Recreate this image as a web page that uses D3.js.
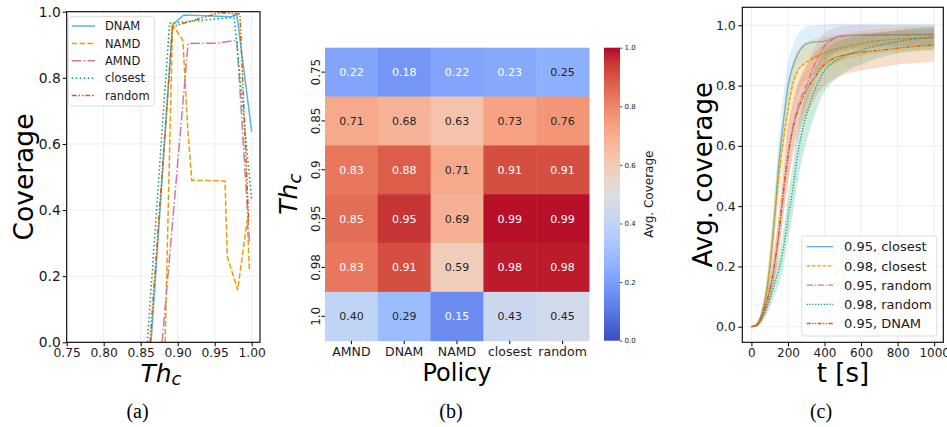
<!DOCTYPE html>
<html><head><meta charset="utf-8">
<script src="https://cdn.jsdelivr.net/npm/d3@7"></script>
<style>
body{margin:0;background:#fff;}
svg{display:block;font-family:"DejaVu Sans",sans-serif;}
</style></head><body>
<svg id="fig" width="947" height="427"></svg>
<script>
// ---------- (a) coverage vs. threshold, one polyline per policy ----------
const thDNAM = [0.864, 0.893, 0.908, 0.973, 0.980, 1.000];
const covDNAM = [0.0, 0.96, 0.99, 0.985, 0.99, 0.637];
const thNAMD = [0.883, 0.893, 0.907, 0.9135, 0.919, 0.964, 0.967, 0.981, 0.994, 0.997];
const covNAMD = [0.0, 0.96, 0.914, 0.647, 0.49, 0.488, 0.26, 0.158, 0.37, 0.214];
const thAMND = [0.879, 0.914, 0.955, 0.977, 0.980, 0.997];
const covAMND = [0.0, 0.904, 0.905, 0.913, 0.913, 0.30];
const thClosest = [0.859, 0.889, 0.971, 0.976, 1.000];
const covClosest = [0.0, 0.965, 0.982, 0.99, 0.43];
const thRandom = [0.8626, 0.893, 0.957, 0.984, 0.996];
const covRandom = [0.0, 0.955, 0.997, 0.993, 0.36];
const aXTicks = [0.75, 0.80, 0.85, 0.90, 0.95, 1.00];
const aYTicks = [0.0, 0.2, 0.4, 0.6, 0.8, 1.0];

// ---------- (b) heatmap: rows = threshold, columns = policy ----------
const policies = ["AMND", "DNAM", "NAMD", "closest", "random"];
const thresholds = ["0.75", "0.85", "0.9", "0.95", "0.98", "1.0"];
const row075 = [0.22, 0.18, 0.22, 0.23, 0.25];
const row085 = [0.71, 0.68, 0.63, 0.73, 0.76];
const row090 = [0.83, 0.88, 0.71, 0.91, 0.91];
const row095 = [0.85, 0.95, 0.69, 0.99, 0.99];
const row098 = [0.83, 0.91, 0.59, 0.98, 0.98];
const row100 = [0.40, 0.29, 0.15, 0.43, 0.45];
const cbTicks = [0.0, 0.2, 0.4, 0.6, 0.8, 1.0];

// ---------- (c) average coverage over time (mean with spread band) ----------
const tSec = [0, 25, 50, 75, 100, 125, 150, 175, 200, 225, 250, 275, 300, 350, 400, 450, 500, 600, 700, 800, 900, 1000];
const m95closest = [0, 0.005, 0.03, 0.09, 0.19, 0.35, 0.54, 0.68, 0.80, 0.86, 0.90, 0.925, 0.938, 0.945, 0.947, 0.958, 0.966, 0.968, 0.968, 0.969, 0.97, 0.97];
const lo95closest = [0, 0, 0.015, 0.06, 0.14, 0.28, 0.46, 0.60, 0.72, 0.80, 0.84, 0.865, 0.88, 0.89, 0.895, 0.91, 0.92, 0.928, 0.932, 0.934, 0.935, 0.935];
const hi95closest = [0, 0.01, 0.045, 0.12, 0.25, 0.43, 0.63, 0.77, 0.88, 0.93, 0.965, 0.985, 0.995, 1.0, 1.002, 1.004, 1.005, 1.005, 1.005, 1.005, 1.005, 1.005];
const m98closest = [0, 0.005, 0.03, 0.09, 0.20, 0.35, 0.50, 0.62, 0.72, 0.80, 0.845, 0.865, 0.877, 0.895, 0.909, 0.918, 0.926, 0.94, 0.949, 0.954, 0.957, 0.957];
const lo98closest = [0, 0, 0.015, 0.06, 0.14, 0.28, 0.42, 0.54, 0.64, 0.72, 0.77, 0.80, 0.82, 0.84, 0.86, 0.872, 0.882, 0.898, 0.908, 0.914, 0.916, 0.916];
const hi98closest = [0, 0.01, 0.045, 0.12, 0.26, 0.42, 0.58, 0.70, 0.80, 0.875, 0.915, 0.935, 0.945, 0.955, 0.962, 0.968, 0.972, 0.982, 0.988, 0.992, 0.995, 0.995];
const m95random = [0, 0.004, 0.025, 0.065, 0.12, 0.20, 0.31, 0.44, 0.56, 0.66, 0.72, 0.765, 0.80, 0.875, 0.93, 0.955, 0.964, 0.967, 0.968, 0.968, 0.968, 0.968];
const lo95random = [0, 0, 0.012, 0.04, 0.085, 0.15, 0.25, 0.37, 0.48, 0.58, 0.65, 0.70, 0.74, 0.82, 0.875, 0.905, 0.915, 0.922, 0.926, 0.928, 0.93, 0.93];
const hi95random = [0, 0.008, 0.038, 0.09, 0.16, 0.25, 0.37, 0.51, 0.64, 0.73, 0.79, 0.83, 0.86, 0.93, 0.975, 0.99, 0.998, 1.0, 1.0, 1.0, 1.0, 1.0];
const m98random = [0, 0.003, 0.02, 0.05, 0.09, 0.14, 0.19, 0.26, 0.36, 0.45, 0.56, 0.64, 0.70, 0.79, 0.85, 0.878, 0.895, 0.917, 0.934, 0.946, 0.955, 0.962];
const lo98random = [0, 0, 0.008, 0.03, 0.06, 0.10, 0.14, 0.20, 0.29, 0.37, 0.47, 0.55, 0.61, 0.71, 0.78, 0.815, 0.84, 0.87, 0.892, 0.906, 0.915, 0.92];
const hi98random = [0, 0.007, 0.032, 0.07, 0.12, 0.18, 0.24, 0.32, 0.43, 0.53, 0.64, 0.72, 0.78, 0.86, 0.915, 0.94, 0.952, 0.965, 0.976, 0.983, 0.99, 0.995];
const m95DNAM = [0, 0.004, 0.025, 0.065, 0.12, 0.20, 0.31, 0.45, 0.57, 0.65, 0.71, 0.75, 0.785, 0.83, 0.87, 0.89, 0.90, 0.91, 0.917, 0.924, 0.93, 0.935];
const lo95DNAM = [0, 0, 0.012, 0.04, 0.085, 0.15, 0.25, 0.37, 0.48, 0.56, 0.62, 0.67, 0.70, 0.76, 0.80, 0.82, 0.835, 0.85, 0.86, 0.87, 0.875, 0.88];
const hi95DNAM = [0, 0.008, 0.038, 0.09, 0.16, 0.26, 0.38, 0.53, 0.66, 0.74, 0.80, 0.84, 0.87, 0.91, 0.94, 0.955, 0.962, 0.972, 0.978, 0.983, 0.986, 0.988];
const cXTicks = [0, 200, 400, 600, 800, 1000];
const cYTicks = [0.0, 0.2, 0.4, 0.6, 0.8, 1.0];

// ---------- styling ----------
const C_BLUE = "#56B4E9", C_ORANGE = "#E69F00", C_PINK = "#CC79A7", C_GREEN = "#009E73", C_VERM = "#D55E00";
const TXT = "#1a1a1a";
const svg = d3.select("#fig");

// coolwarm colour ramp (diverging blue-grey-red)
const coolwarmStops = [
  [59,76,192],[68,90,204],[77,104,215],[87,117,225],[98,130,234],[108,142,241],[119,154,247],[130,165,251],
  [141,176,254],[152,185,255],[163,194,255],[174,201,253],[184,208,249],[194,213,244],[204,217,238],[213,219,230],
  [221,221,221],[229,216,209],[236,211,197],[241,204,185],[245,196,173],[247,187,160],[247,177,148],[247,166,135],
  [244,154,123],[241,141,111],[236,127,99],[229,112,88],[222,96,77],[213,80,66],[203,62,56],[192,40,47],[180,4,38]
];
const coolwarm = d3.scaleLinear()
  .domain(coolwarmStops.map((_, i) => i / (coolwarmStops.length - 1)))
  .range(coolwarmStops.map(c => d3.rgb(c[0], c[1], c[2])))
  .interpolate(d3.interpolateRgb).clamp(true);

function styleAxis(g, size) {
  g.select(".domain").remove();
  g.selectAll(".tick line").attr("stroke", "#000").attr("stroke-width", 1);
  g.selectAll(".tick text").attr("fill", TXT).style("font-family", "DejaVu Sans").style("font-size", size + "px");
}

// ======================= panel (a) =======================
{
  const L = 66.7, R = 260, T = 11.7, B = 342.3;
  const x = d3.scaleLinear().domain([0.75, 1.0112]).range([L, R]);
  const y = d3.scaleLinear().domain([0, 1]).range([B, T]);
  const g = svg.append("g");
  g.append("clipPath").attr("id", "clipA").append("rect").attr("x", L).attr("y", T).attr("width", R - L).attr("height", B - T);

  g.append("g").selectAll("line").data(aXTicks).join("line")
    .attr("x1", d => x(d)).attr("x2", d => x(d)).attr("y1", T).attr("y2", B)
    .attr("stroke", "#e8e8e8").attr("stroke-width", 0.8);
  g.append("g").selectAll("line").data(aYTicks).join("line")
    .attr("y1", d => y(d)).attr("y2", d => y(d)).attr("x1", L).attr("x2", R)
    .attr("stroke", "#e8e8e8").attr("stroke-width", 0.8);

  const seriesA = [
    { name: "DNAM", xs: thDNAM, ys: covDNAM, color: C_BLUE, dash: null },
    { name: "NAMD", xs: thNAMD, ys: covNAMD, color: C_ORANGE, dash: "5.5,2.4" },
    { name: "AMND", xs: thAMND, ys: covAMND, color: C_PINK, dash: "9.6,2.4,1.5,2.4" },
    { name: "closest", xs: thClosest, ys: covClosest, color: C_GREEN, dash: "1.5,2.5" },
    { name: "random", xs: thRandom, ys: covRandom, color: C_VERM, dash: "5,1.8,1.6,1.8,1.6,1.8" }
  ];
  const line = d3.line().x(d => x(d[0])).y(d => y(d[1]));
  const lines = g.append("g").attr("clip-path", "url(#clipA)");
  seriesA.forEach(s => {
    lines.append("path").datum(d3.zip(s.xs, s.ys)).attr("d", line)
      .attr("fill", "none").attr("stroke", s.color).attr("stroke-width", 1.5)
      .attr("stroke-dasharray", s.dash);
  });

  const ax = g.append("g").attr("transform", `translate(0,${B})`)
    .call(d3.axisBottom(x).tickValues(aXTicks).tickFormat(d3.format(".2f")).tickSize(4).tickPadding(2));
  styleAxis(ax, 12.3);
  const ay = g.append("g").attr("transform", `translate(${L},0)`)
    .call(d3.axisLeft(y).tickValues(aYTicks).tickFormat(d3.format(".1f")).tickSize(4).tickPadding(2));
  styleAxis(ay, 13.8);

  g.append("rect").attr("x", L).attr("y", T).attr("width", R - L).attr("height", B - T)
    .attr("fill", "none").attr("stroke", "#000").attr("stroke-width", 1.1);

  // legend
  const lg = g.append("g");
  lg.append("rect").attr("x", 68.3).attr("y", 16.7).attr("width", 86).attr("height", 89.3)
    .attr("rx", 2.5).attr("fill", "#fff").attr("fill-opacity", 0.85).attr("stroke", "#d4d4d4").attr("stroke-width", 0.8);
  seriesA.forEach((s, i) => {
    const yy = 26 + i * 17.4;
    lg.append("line").attr("x1", 71.7).attr("x2", 95).attr("y1", yy).attr("y2", yy)
      .attr("stroke", s.color).attr("stroke-width", 1.5).attr("stroke-dasharray", s.dash);
    lg.append("text").attr("x", 105).attr("y", yy).attr("dy", "0.36em").attr("font-size", 11.5)
      .attr("fill", TXT).text(s.name);
  });

  g.append("text").attr("transform", `translate(33,${(T + B) / 2}) rotate(-90)`)
    .attr("text-anchor", "middle").attr("font-size", 26.5).attr("fill", "#000").text("Coverage");
  const xl = g.append("text").attr("x", 161).attr("y", 381.7).attr("text-anchor", "middle")
    .attr("font-size", 25).attr("font-style", "italic").attr("fill", "#000");
  xl.append("tspan").text("Th");
  xl.append("tspan").attr("font-size", 18).attr("dy", 3.5).text("c");

  g.append("text").attr("x", 137.5).attr("y", 418).attr("text-anchor", "middle")
    .attr("font-family", "Liberation Serif").attr("font-size", 20).attr("fill", "#000").text("(a)");
}

// ======================= panel (b) =======================
{
  const L = 325, R = 589, T = 47.7, B = 340.7;
  const rows = [row075, row085, row090, row095, row098, row100];
  const x = d3.scaleBand().domain(policies).range([L, R]);
  const y = d3.scaleBand().domain(thresholds).range([T, B]);
  const g = svg.append("g");
  const cells = [];
  rows.forEach((r, i) => r.forEach((v, j) => cells.push({ th: thresholds[i], p: policies[j], v })));

  const lum = c => {
    const f = u => { u /= 255; return u <= 0.03928 ? u / 12.92 : Math.pow((u + 0.055) / 1.055, 2.4); };
    return 0.2126 * f(c.r) + 0.7152 * f(c.g) + 0.0722 * f(c.b);
  };
  g.selectAll("rect.cell").data(cells).join("rect").attr("class", "cell")
    .attr("x", d => x(d.p)).attr("y", d => y(d.th))
    .attr("width", x.bandwidth() + 0.5).attr("height", y.bandwidth() + 0.5)
    .attr("fill", d => coolwarm(d.v));
  g.selectAll("text.val").data(cells).join("text").attr("class", "val")
    .attr("x", d => x(d.p) + x.bandwidth() / 2).attr("y", d => y(d.th) + y.bandwidth() / 2)
    .attr("dy", "0.36em").attr("text-anchor", "middle").attr("font-size", 11)
    .attr("fill", d => lum(d3.rgb(coolwarm(d.v))) > 0.408 ? "#262626" : "#ffffff")
    .text(d => d3.format(".2f")(d.v));

  // ticks
  const ax = g.append("g").attr("transform", `translate(0,${B})`)
    .call(d3.axisBottom(x).tickSize(3.5).tickPadding(2.5));
  styleAxis(ax, 12.5);
  const ay = g.append("g").attr("transform", `translate(${L},0)`)
    .call(d3.axisLeft(y).tickSize(3.5).tickPadding(2));
  styleAxis(ay, 12);
  ay.selectAll(".tick text").attr("text-anchor", "middle").attr("x", 0).attr("dy", 0)
    .attr("transform", "translate(-5.5,0) rotate(-90)").attr("y", 0);

  g.append("text").attr("x", 457).attr("y", 380.5).attr("text-anchor", "middle")
    .attr("font-size", 24).attr("fill", "#000").text("Policy");
  const yl = g.append("text").attr("transform", `translate(297,${(T + B) / 2}) rotate(-90)`)
    .attr("text-anchor", "middle").attr("font-size", 25).attr("font-style", "italic").attr("fill", "#000");
  yl.append("tspan").text("Th");
  yl.append("tspan").attr("font-size", 18).attr("dy", 3.5).text("c");

  // colour bar
  const CL = 604, CR = 620;
  const cb = d3.scaleLinear().domain([0, 1]).range([B, T]);
  const grad = svg.append("defs").append("linearGradient").attr("id", "cwGrad")
    .attr("x1", 0).attr("y1", 1).attr("x2", 0).attr("y2", 0);
  d3.range(0, 1.0001, 0.02).forEach(t => grad.append("stop").attr("offset", t).attr("stop-color", coolwarm(t)));
  g.append("rect").attr("x", CL).attr("y", T).attr("width", CR - CL).attr("height", B - T).attr("fill", "url(#cwGrad)");
  const acb = g.append("g").attr("transform", `translate(${CR},0)`)
    .call(d3.axisRight(cb).tickValues(cbTicks).tickFormat(d3.format(".1f")).tickSize(2.5).tickPadding(2));
  styleAxis(acb, 7);
  acb.selectAll(".tick line").attr("stroke-width", 0.7);
  g.append("text").attr("transform", `translate(653,${(T + B) / 2}) rotate(-90)`)
    .attr("text-anchor", "middle").attr("font-size", 12).attr("fill", TXT).text("Avg. Coverage");

  g.append("text").attr("x", 451).attr("y", 418).attr("text-anchor", "middle")
    .attr("font-family", "Liberation Serif").attr("font-size", 20).attr("fill", "#000").text("(b)");
}

// ======================= panel (c) =======================
{
  const L = 742.3, R = 943.3, T = 7.3, B = 342.3;
  const x = d3.scaleLinear().domain([-50, 1050]).range([L, R]);
  const y = d3.scaleLinear().domain([-0.0518, 1.0597]).range([B, T]);
  const g = svg.append("g");
  g.append("clipPath").attr("id", "clipC").append("rect").attr("x", L).attr("y", T).attr("width", R - L).attr("height", B - T);

  g.append("g").selectAll("line").data(cXTicks).join("line")
    .attr("x1", d => x(d)).attr("x2", d => x(d)).attr("y1", T).attr("y2", B)
    .attr("stroke", "#e8e8e8").attr("stroke-width", 0.8);
  g.append("g").selectAll("line").data(cYTicks).join("line")
    .attr("y1", d => y(d)).attr("y2", d => y(d)).attr("x1", L).attr("x2", R)
    .attr("stroke", "#e8e8e8").attr("stroke-width", 0.8);

  const seriesC = [
    { name: "0.95, closest", m: m95closest, lo: lo95closest, hi: hi95closest, color: C_BLUE, dash: null },
    { name: "0.98, closest", m: m98closest, lo: lo98closest, hi: hi98closest, color: C_ORANGE, dash: "3.7,1.6" },
    { name: "0.95, random", m: m95random, lo: lo95random, hi: hi95random, color: C_PINK, dash: "6.4,1.6,1.2,1.6" },
    { name: "0.98, random", m: m98random, lo: lo98random, hi: hi98random, color: C_GREEN, dash: "1.2,1.65" },
    { name: "0.95, DNAM", m: m95DNAM, lo: lo95DNAM, hi: hi95DNAM, color: C_VERM, dash: "4,1.4,1.4,1.4,1.4,1.4" }
  ];
  const plot = g.append("g").attr("clip-path", "url(#clipC)");
  const area = d3.area().x((d, i) => x(tSec[i])).y0(d => y(d[0])).y1(d => y(d[1])).curve(d3.curveMonotoneX);
  const line = d3.line().x((d, i) => x(tSec[i])).y(d => y(d)).curve(d3.curveMonotoneX);
  seriesC.forEach(s => {
    plot.append("path").datum(d3.zip(s.lo, s.hi)).attr("d", area)
      .attr("fill", s.color).attr("fill-opacity", 0.2).attr("stroke", "none");
    plot.append("path").datum(s.m).attr("d", line)
      .attr("fill", "none").attr("stroke", s.color).attr("stroke-width", 1.3)
      .attr("stroke-dasharray", s.dash);
  });

  const ax = g.append("g").attr("transform", `translate(0,${B})`)
    .call(d3.axisBottom(x).tickValues(cXTicks).tickFormat(d3.format("d")).tickSize(4).tickPadding(2));
  styleAxis(ax, 12);
  const ay = g.append("g").attr("transform", `translate(${L},0)`)
    .call(d3.axisLeft(y).tickValues(cYTicks).tickFormat(d3.format(".1f")).tickSize(4).tickPadding(2.5));
  styleAxis(ay, 12.5);

  g.append("rect").attr("x", L).attr("y", T).attr("width", R - L).attr("height", B - T)
    .attr("fill", "none").attr("stroke", "#000").attr("stroke-width", 1.1);

  const lg = g.append("g");
  lg.append("rect").attr("x", 801.7).attr("y", 236).attr("width", 135).attr("height", 100)
    .attr("rx", 2.5).attr("fill", "#fff").attr("fill-opacity", 0.85).attr("stroke", "#d4d4d4").attr("stroke-width", 0.8);
  seriesC.forEach((s, i) => {
    const yy = 246.7 + i * 19.2;
    lg.append("line").attr("x1", 806.7).attr("x2", 833.3).attr("y1", yy).attr("y2", yy)
      .attr("stroke", s.color).attr("stroke-width", 1.3).attr("stroke-dasharray", s.dash);
    lg.append("text").attr("x", 844).attr("y", yy).attr("dy", "0.36em").attr("font-size", 13)
      .attr("fill", TXT).text(s.name);
  });

  g.append("text").attr("transform", `translate(712,${(T + B) / 2}) rotate(-90)`)
    .attr("text-anchor", "middle").attr("font-size", 26).attr("fill", "#000").text("Avg. coverage");
  g.append("text").attr("x", 843).attr("y", 382).attr("text-anchor", "middle")
    .attr("font-size", 26).attr("fill", "#000").text("t [s]");
  g.append("text").attr("x", 821).attr("y", 418).attr("text-anchor", "middle")
    .attr("font-family", "Liberation Serif").attr("font-size", 20).attr("fill", "#000").text("(c)");
}
</script>
</body></html>
